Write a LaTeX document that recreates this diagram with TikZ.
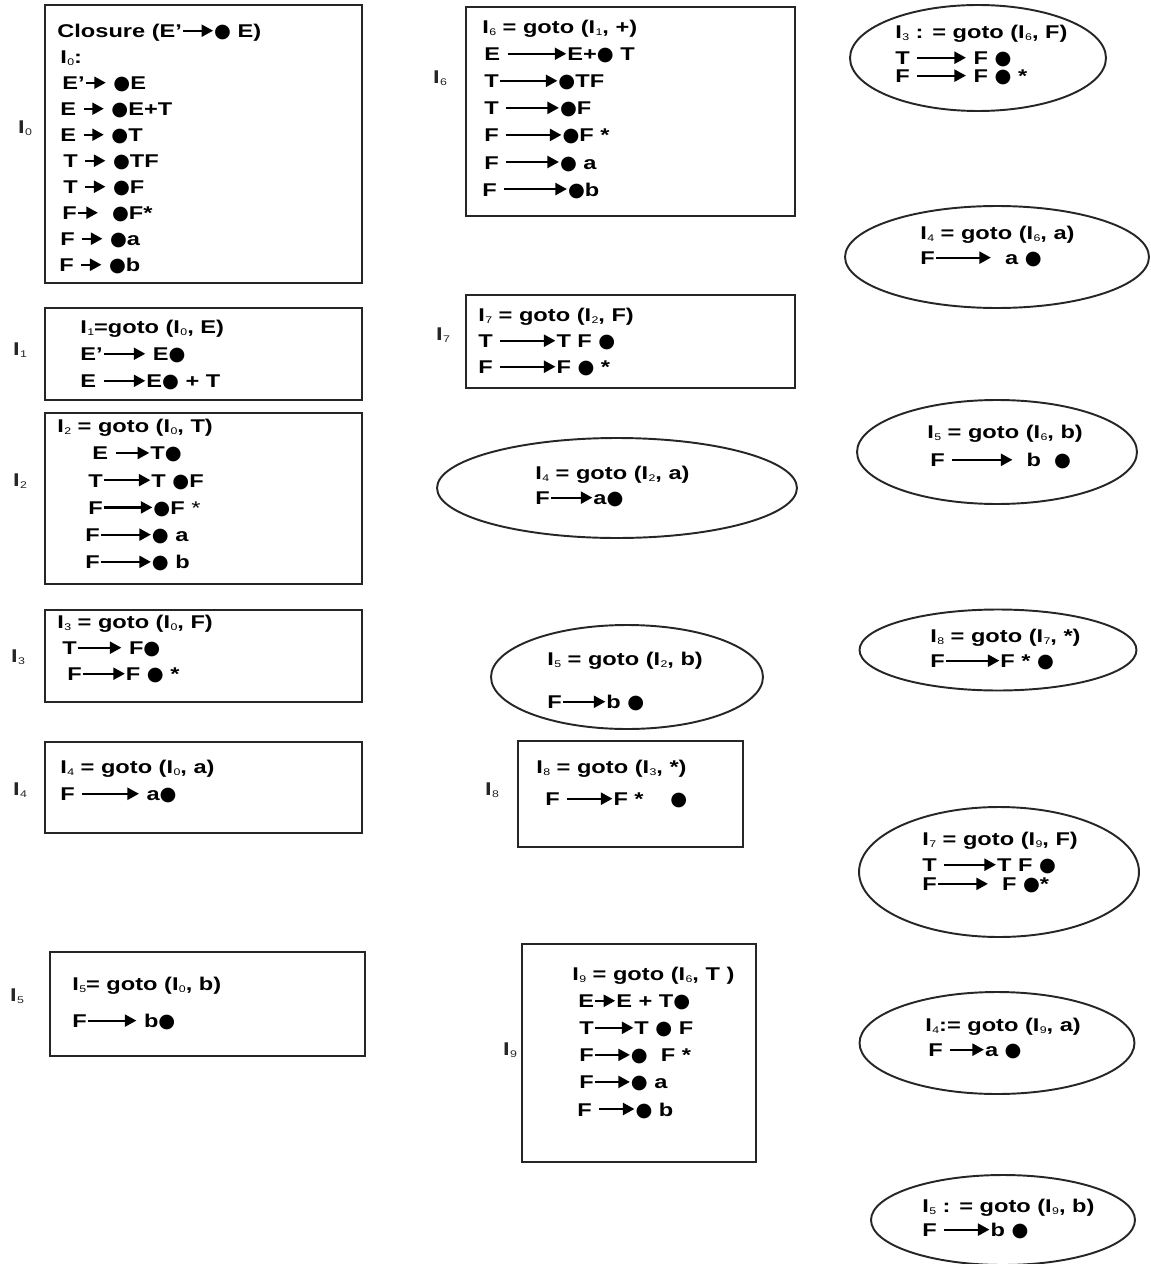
\documentclass[tikz,border=0pt]{standalone}
\usepackage{fontspec}
\setmainfont{Liberation Sans}[FakeStretch=1.28]
\newfontfamily\dotfont{DejaVu Sans}
\usetikzlibrary{arrows.meta, shapes.geometric}
\definecolor{cline}{HTML}{262626}
\tikzset{
  every picture/.style={line width=1pt},
  box/.style={draw=cline, line width=1.3pt, inner sep=0pt},
  oval/.style={ellipse, draw=cline, line width=1.1pt, inner sep=0pt},
  txt/.style={anchor=north west, inner sep=0pt, align=left, font=\fontsize{10.5pt}{#1}\selectfont\bfseries},
  txt/.default=14.8pt,
  lbl/.style={font=\fontsize{10.5pt}{12pt}\selectfont\bfseries, text=cline, inner sep=0pt},
}
\newcommand{\arr}[1][0.8cm]{\tikz[baseline=-0.72ex]\draw[-{Triangle[length=2.3mm,width=2.4mm]}, line width=1.25pt] (0,0) -- (#1,0);}
\newcommand{\dt}{{\dotfont\fontsize{11pt}{11pt}\selectfont ●}}
\newcommand{\Is}[1]{I\kern0.2pt\raisebox{-0.2ex}{\fontsize{5.5pt}{5.5pt}\selectfont\mdseries #1}}

\begin{document}
\begin{tikzpicture}[x=0.02cm, y=-0.02cm]
  \useasboundingbox (0,0) rectangle (1151,1264);

  % left column: items from I0
  \node[box, minimum width=6.34cm, minimum height=5.56cm] (b0) at (203.5,144) {};
  \node[lbl] (l0) at (25,128) {\Is{0}};
  \node[txt] (t0) at (57,24) {Closure (E'\arr[0.6cm]\dt\ E)\\
    \hspace*{0.06cm}\Is{0}:\\
    \hspace*{0.1cm}E'\arr[0.4cm]\ \dt E\\
    \hspace*{0.06cm}E \arr[0.4cm]\ \dt E+T\\
    \hspace*{0.06cm}E \arr[0.4cm]\ \dt T\\
    \hspace*{0.12cm}T \arr[0.4cm]\ \dt TF\\
    \hspace*{0.12cm}T \arr[0.4cm]\ \dt F\\
    \hspace*{0.1cm}F\arr[0.4cm]\ \ \dt F*\\
    \hspace*{0.06cm}F \arr[0.4cm]\ \dt a\\
    \hspace*{0.04cm}F \arr[0.4cm]\ \dt b};

  \node[box, minimum width=6.34cm, minimum height=1.84cm] (b1) at (203.5,354) {};
  \node[lbl] (l1) at (20,350) {\Is{1}};
  \node[txt=15.4pt] (t1) at (80,320) {\Is{1}=goto (\Is{0}, E)\\
    E'\arr[0.83cm] E\dt\\
    E \arr[0.83cm]E\dt\ + T};

  \node[box, minimum width=6.34cm, minimum height=3.42cm] (b2) at (203.5,498.5) {};
  \node[lbl] (l2) at (20,481) {\Is{2}};
  \node[txt=15.5pt] (t2) at (57,419) {\Is{2} = goto (\Is{0}, T)\\
    \hspace*{0.7cm}E \arr[0.67cm]T\dt\\
    \hspace*{0.62cm}T\arr[0.93cm]T \dt F\\
    \hspace*{0.62cm}F\arr[0.97cm]\dt F \textmd{*}\\
    \hspace*{0.56cm}F\arr[1cm]\dt\ a\\
    \hspace*{0.56cm}F\arr[1cm]\dt\ b};

  \node[box, minimum width=6.34cm, minimum height=1.84cm] (b3) at (203.5,656) {};
  \node[lbl] (l3) at (18,657) {\Is{3}};
  \node[txt] (t3) at (57,615) {\Is{3} = goto (\Is{0}, F)\\
    \hspace*{0.1cm}T\arr[0.87cm] F\dt\\
    \hspace*{0.2cm}F\arr[0.84cm]F \dt\ *};

  \node[box, minimum width=6.34cm, minimum height=1.82cm] (b4) at (203.5,787.5) {};
  \node[lbl] (l4) at (20,790) {\Is{4}};
  \node[txt=15.4pt] (t4) at (60,760) {\Is{4} = goto (\Is{0}, a)\\
    F \arr[1.13cm] a\dt};

  \node[box, minimum width=6.30cm, minimum height=2.08cm] (b5) at (207.5,1004) {};
  \node[lbl] (l5) at (17,996) {\Is{5}};
  \node[txt=21pt] (t5) at (72,977) {\Is{5}= goto (\Is{0}, b)\\
    F\arr[0.97cm]\ b\dt};

  % middle column
  \node[box, minimum width=6.58cm, minimum height=4.18cm] (b6) at (630.5,111.5) {};
  \node[lbl] (l6) at (440,78) {\Is{6}};
  \node[txt=15.4pt] (t6) at (482,20) {\Is{6} = goto (\Is{1}, +)\\
    \hspace*{0.04cm}E \arr[1.17cm]E+\dt\ T\\
    \hspace*{0.04cm}T\arr[1.15cm]\dt TF\\
    \hspace*{0.04cm}T \arr[1.05cm]\dt F\\
    \hspace*{0.04cm}F \arr[1.1cm]\dt F *\\
    \hspace*{0.04cm}F \arr[1.05cm]\dt\ a\\
    F \arr[1.25cm]\dt b};

  \node[box, minimum width=6.58cm, minimum height=1.86cm] (b7) at (630.5,341.5) {};
  \node[lbl] (l7) at (443,335) {\Is{7}};
  \node[txt] (t7) at (478,308) {\Is{7} = goto (\Is{2}, F)\\
    T \arr[1.1cm]T F \dt\\
    F \arr[1.1cm]F \dt\ *};

  \node[oval, minimum width=7.2cm, minimum height=2.0cm] (e42) at (617,488) {};
  \node[txt=14.2pt] (t42) at (535,466) {\Is{4} = goto (\Is{2}, a)\\
    F\arr[0.83cm]a\dt};

  \node[oval, minimum width=5.44cm, minimum height=2.08cm] (e52) at (627,677) {};
  \node[txt=24.5pt] (t52) at (547,652) {\Is{5} = goto (\Is{2}, b)\\
    F\arr[0.85cm]b \dt};

  \node[box, minimum width=4.5cm, minimum height=2.12cm] (b8) at (630.5,794) {};
  \node[lbl] (l8) at (492,790) {\Is{8}};
  \node[txt=18.2pt] (t8) at (536,760) {\Is{8} = goto (\Is{3}, *)\\
    \hspace*{0.18cm}F \arr[0.9cm]F * \hspace{0.4cm}\dt};

  \node[box, minimum width=4.68cm, minimum height=4.36cm] (b9) at (639,1053) {};
  \node[lbl] (l9) at (510,1050) {\Is{9}};
  \node[txt=15.4pt] (t9) at (572,967) {\Is{9} = goto (\Is{6}, T )\\
    \hspace*{0.12cm}E\arr[0.4cm]E + T\dt\\
    \hspace*{0.14cm}T\arr[0.77cm]T \dt\ F\\
    \hspace*{0.14cm}F\arr[0.7cm]\dt\ \ F *\\
    \hspace*{0.14cm}F\arr[0.7cm]\dt\ a\\
    \hspace*{0.1cm}F \arr[0.7cm]\dt\ b};

  % right column
  \node[oval, minimum width=5.12cm, minimum height=2.12cm] (e36) at (978,58) {};
  \node[txt] (t36) at (895,25) {\Is{3} : = goto (\Is{6}, F)\\
    T \arr[0.97cm] F \dt\\[-4.6pt]
    F \arr[0.97cm] F \dt\ *};

  \node[oval, minimum width=6.08cm, minimum height=2.04cm] (e46) at (997,257) {};
  \node[txt=14.2pt] (t46) at (920,226) {\Is{4} = goto (\Is{6}, a)\\
    F\arr[1.1cm]\ \ a \dt};

  \node[oval, minimum width=5.6cm, minimum height=2.08cm] (e56) at (997,452) {};
  \node[txt=16pt] (t56) at (927,425) {\Is{5} = goto (\Is{6}, b)\\
    \hspace*{0.06cm}F \arr[1.2cm]\ \ b \ \dt};

  \node[oval, minimum width=5.54cm, minimum height=1.62cm] (e87) at (998,650) {};
  \node[txt=14.2pt] (t87) at (930,629) {\Is{8} = goto (\Is{7}, *)\\
    F\arr[1.07cm]F * \dt};

  \node[oval, minimum width=5.6cm, minimum height=2.6cm] (e79) at (999,872) {};
  \node[txt] (t79) at (922,832) {\Is{7} = goto (\Is{9}, F)\\
    T \arr[1.03cm]T F \dt\\[-3.9pt]
    F\arr[1cm]\ \ F \dt*};

  \node[oval, minimum width=5.5cm, minimum height=2.04cm] (e49) at (997,1043) {};
  \node[txt=14.2pt] (t49) at (925,1018) {\Is{4}:= goto (\Is{9}, a)\\
    \hspace*{0.06cm}F \arr[0.67cm]a \dt};

  \node[oval, minimum width=5.28cm, minimum height=1.8cm] (e59) at (1003,1220) {};
  \node[txt=13.6pt] (t59) at (922,1199) {\Is{5} : = goto (\Is{9}, b)\\
    F \arr[0.9cm]b \dt};
\end{tikzpicture}
\end{document}
